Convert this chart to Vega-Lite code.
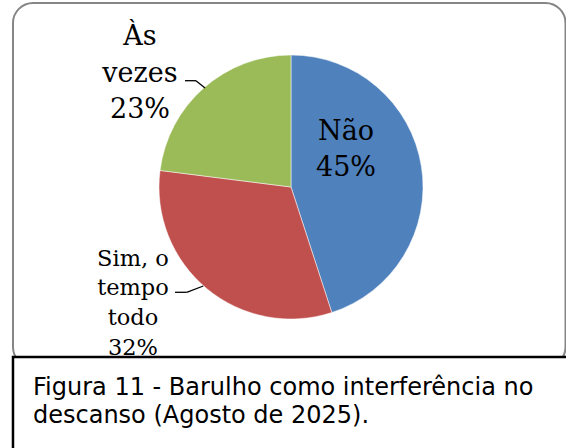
{
  "$schema": "https://vega.github.io/schema/vega-lite/v6.json",
  "autosize": {"type": "none"},
  "padding": 0,
  "width": 566,
  "height": 448,
  "background": "white",
  "view": {"stroke": null},
  "data": {
    "values": [
      {"category": "Não", "value": 45, "label": "Não\n45%"},
      {"category": "Sim, o tempo todo", "value": 32, "label": "Sim, o\ntempo\ntodo\n32%"},
      {"category": "Às vezes", "value": 23, "label": "Às\nvezes\n23%"}
    ]
  },
  "layer": [
    {
      "data": {"values": [{"frame": "chart"}]},
      "mark": {"type": "rect", "fill": null, "stroke": "#868686", "strokeWidth": 2, "cornerRadius": 20},
      "encoding": {
        "x": {"datum": -2.1061, "type": "quantitative", "scale": {"domain": [-2.2045, 2.0833], "nice": false, "zero": false}, "axis": null},
        "x2": {"datum": 2.0795},
        "y": {"datum": 1.3939, "type": "quantitative", "scale": {"domain": [-1.9773, 1.4167], "nice": false, "zero": false}, "axis": null},
        "y2": {"datum": -1.3636}
      }
    },
    {
      "mark": {"type": "arc", "outerRadius": 132, "stroke": "#ffffff", "strokeWidth": 0.5},
      "encoding": {
        "theta": {"field": "value", "type": "quantitative", "stack": true},
        "color": {
          "field": "category",
          "type": "nominal",
          "scale": {"domain": ["Não", "Sim, o tempo todo", "Às vezes"], "range": ["#4F81BD", "#C0504D", "#9BBB59"]},
          "legend": null
        },
        "x": {"datum": 0, "type": "quantitative", "axis": null},
        "y": {"datum": 0, "type": "quantitative", "axis": null}
      }
    },
    {
      "transform": [{"filter": "datum.category === 'Não'"}],
      "mark": {"type": "text", "font": "DejaVu Serif", "fontSize": 27, "lineHeight": 36.7, "lineBreak": "\n", "align": "center", "baseline": "alphabetic", "color": "black"},
      "encoding": {
        "x": {"datum": 0.4167, "type": "quantitative", "axis": null},
        "y": {"datum": 0.3583, "type": "quantitative", "axis": null},
        "text": {"field": "label"}
      }
    },
    {
      "transform": [{"filter": "datum.category === 'Às vezes'"}],
      "mark": {"type": "text", "font": "DejaVu Serif", "fontSize": 27, "lineHeight": 36.7, "lineBreak": "\n", "align": "center", "baseline": "alphabetic", "color": "black"},
      "encoding": {
        "x": {"datum": -1.1439, "type": "quantitative", "axis": null},
        "y": {"datum": 1.0758, "type": "quantitative", "axis": null},
        "text": {"field": "label"}
      }
    },
    {
      "transform": [{"filter": "datum.category === 'Sim, o tempo todo'"}],
      "mark": {"type": "text", "font": "DejaVu Serif", "fontSize": 22.5, "lineHeight": 29.8, "lineBreak": "\n", "align": "center", "baseline": "alphabetic", "color": "black"},
      "encoding": {
        "x": {"datum": -1.197, "type": "quantitative", "axis": null},
        "y": {"datum": -0.5947, "type": "quantitative", "axis": null},
        "text": {"field": "label"}
      }
    },
    {
      "transform": [{"filter": "datum.category === 'Às vezes'"}],
      "mark": {"type": "rule", "color": "black", "strokeWidth": 1.3},
      "encoding": {
        "x": {"datum": -0.6515, "type": "quantitative", "axis": null},
        "y": {"datum": 0.75, "type": "quantitative", "axis": null},
        "x2": {"datum": -0.7197},
        "y2": {"datum": 0.8053}
      }
    },
    {
      "transform": [{"filter": "datum.category === 'Às vezes'"}],
      "mark": {"type": "rule", "color": "black", "strokeWidth": 1.3},
      "encoding": {
        "x": {"datum": -0.7197, "type": "quantitative", "axis": null},
        "y": {"datum": 0.8053, "type": "quantitative", "axis": null},
        "x2": {"datum": -0.803},
        "y2": {"datum": 0.8053}
      }
    },
    {
      "transform": [{"filter": "datum.category === 'Sim, o tempo todo'"}],
      "mark": {"type": "rule", "color": "black", "strokeWidth": 1.3},
      "encoding": {
        "x": {"datum": -0.6644, "type": "quantitative", "axis": null},
        "y": {"datum": -0.75, "type": "quantitative", "axis": null},
        "x2": {"datum": -0.7902},
        "y2": {"datum": -0.7977}
      }
    },
    {
      "transform": [{"filter": "datum.category === 'Sim, o tempo todo'"}],
      "mark": {"type": "rule", "color": "black", "strokeWidth": 1.3},
      "encoding": {
        "x": {"datum": -0.7902, "type": "quantitative", "axis": null},
        "y": {"datum": -0.7977, "type": "quantitative", "axis": null},
        "x2": {"datum": -0.8788},
        "y2": {"datum": -0.7977}
      }
    },
    {
      "data": {"values": [{"caption": "Figura 11 -  Barulho como interferência no\ndescanso (Agosto de 2025)."}]},
      "mark": {"type": "rect", "fill": "white", "stroke": "black", "strokeWidth": 2.5},
      "encoding": {
        "x": {"datum": -2.1061, "type": "quantitative", "axis": null},
        "x2": {"datum": 2.1894},
        "y": {"datum": -1.2879, "type": "quantitative", "axis": null},
        "y2": {"datum": -2.0682}
      }
    },
    {
      "data": {"values": [{"caption": "Figura 11 -  Barulho como interferência no\ndescanso (Agosto de 2025)."}]},
      "mark": {"type": "text", "font": "DejaVu Sans", "fontSize": 24, "lineHeight": 28.2, "lineBreak": "\n", "align": "left", "baseline": "alphabetic", "color": "black"},
      "encoding": {
        "x": {"datum": -1.9545, "type": "quantitative", "axis": null},
        "y": {"datum": -1.572, "type": "quantitative", "axis": null},
        "text": {"field": "caption"}
      }
    }
  ]
}
